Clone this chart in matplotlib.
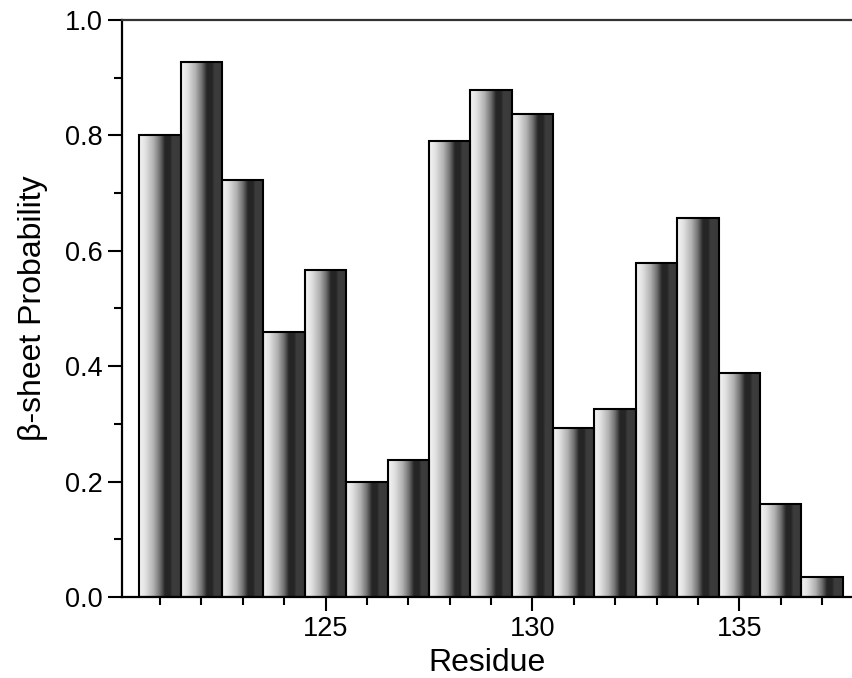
import numpy as np
import matplotlib
matplotlib.use("Agg")
import matplotlib.pyplot as plt
from matplotlib.colors import LinearSegmentedColormap

plt.rcParams["font.family"] = ["Liberation Sans", "DejaVu Sans"]

residues = [121, 122, 123, 124, 125, 126, 127, 128, 129,
            130, 131, 132, 133, 134, 135, 136, 137]
prob = [0.801, 0.927, 0.723, 0.459, 0.567, 0.199, 0.237, 0.791, 0.879,
        0.837, 0.293, 0.326, 0.578, 0.656, 0.388, 0.162, 0.035]

# metallic shading: light on the left, dark on the right
shade = LinearSegmentedColormap.from_list("shade", [
    (0.00, "#f4f4f4"), (0.15, "#e2e2e2"), (0.35, "#b0b0b0"),
    (0.50, "#707070"), (0.62, "#262626"), (0.74, "#252525"),
    (0.80, "#3c3c3c"), (1.00, "#3a3a3a")])
grad = np.linspace(0, 1, 256).reshape(1, -1)

fig = plt.figure(figsize=(8.52, 6.78), dpi=100)
ax = fig.add_axes([0.1432, 0.1195, 0.8568, 0.851])

bars = ax.bar(residues, prob, width=1.0, facecolor="none",
              edgecolor="black", linewidth=1.5, zorder=3)
for b in bars:
    x0, w, h = b.get_x(), b.get_width(), b.get_height()
    ax.imshow(grad, cmap=shade, aspect="auto", interpolation="bilinear",
              extent=[x0, x0 + w, 0, h], zorder=2)

ax.set_xlim(120.08, 137.725)
ax.set_ylim(0, 1.0)

ax.set_xticks([125, 130, 135])
ax.set_xticks(residues, minor=True)
ax.set_yticks([0.0, 0.2, 0.4, 0.6, 0.8, 1.0])
ax.set_yticks(np.arange(0.1, 1.0, 0.2), minor=True)
ax.yaxis.set_major_formatter(plt.FormatStrFormatter("%.1f"))

ax.tick_params(which="major", direction="out", length=10, width=1.5,
               labelsize=19.5, pad=4)
ax.tick_params(which="minor", direction="out", length=6, width=1.5)

for sp in ["left", "bottom", "top"]:
    ax.spines[sp].set_linewidth(1.6)
ax.spines["top"].set_color("#333333")
ax.spines["right"].set_visible(False)

ax.set_xlabel("Residue", fontsize=23, labelpad=4)
ax.set_ylabel("β-sheet Probability", fontsize=23, labelpad=12)

fig.savefig("out.png", dpi=100, facecolor="white")
